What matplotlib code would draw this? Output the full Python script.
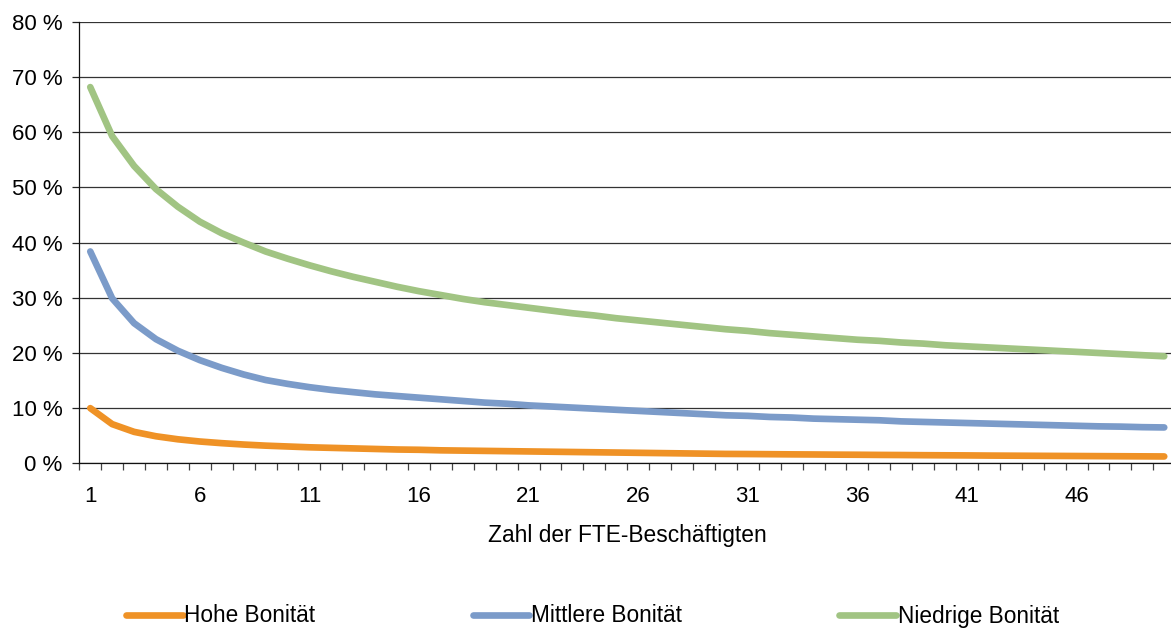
import numpy as np
import matplotlib
matplotlib.use("Agg")
import matplotlib.pyplot as plt

plt.rcParams['font.family'] = ['Liberation Sans', 'DejaVu Sans']

# Number of FTE employees (categories 1..50)
employees = list(range(1, 51))

hohe = [10.0, 7.1, 5.7, 4.9, 4.35, 3.95, 3.65, 3.4, 3.2, 3.05,
        2.9, 2.8, 2.7, 2.6, 2.5, 2.45, 2.35, 2.3, 2.25, 2.2,
        2.15, 2.1, 2.05, 2.0, 1.95, 1.9, 1.85, 1.8, 1.75, 1.7,
        1.68, 1.65, 1.62, 1.6, 1.57, 1.55, 1.52, 1.5, 1.47, 1.45,
        1.43, 1.4, 1.38, 1.36, 1.34, 1.32, 1.3, 1.28, 1.26, 1.24]

mittlere = [38.4, 29.9, 25.4, 22.5, 20.4, 18.7, 17.3, 16.1, 15.1, 14.4,
            13.8, 13.3, 12.9, 12.5, 12.2, 11.9, 11.6, 11.3, 11.0, 10.8,
            10.5, 10.3, 10.1, 9.9, 9.7, 9.5, 9.3, 9.1, 8.9, 8.7,
            8.6, 8.4, 8.3, 8.1, 8.0, 7.9, 7.8, 7.6, 7.5, 7.4,
            7.3, 7.2, 7.1, 7.0, 6.9, 6.8, 6.7, 6.65, 6.55, 6.5]

niedrige = [68.2, 59.3, 53.9, 49.7, 46.5, 43.8, 41.7, 40.0, 38.4, 37.1,
            35.9, 34.8, 33.8, 32.9, 32.0, 31.2, 30.5, 29.8, 29.2, 28.7,
            28.2, 27.7, 27.2, 26.8, 26.3, 25.9, 25.5, 25.1, 24.7, 24.3,
            24.0, 23.6, 23.3, 23.0, 22.7, 22.4, 22.2, 21.9, 21.7, 21.4,
            21.2, 21.0, 20.8, 20.6, 20.4, 20.2, 20.0, 19.8, 19.6, 19.4]

series_labels = ["Hohe Bonität", "Mittlere Bonität", "Niedrige Bonität"]
series_colors = ["#EF9226", "#7B9BC9", "#A1C483"]
y_ticks = [0, 10, 20, 30, 40, 50, 60, 70, 80]
x_label_every = 5

W, H = 1171, 628
fig = plt.figure(figsize=(W / 100, H / 100), dpi=100)
ax = fig.add_axes([79.3 / W, 164.7 / H, (1175.2 - 79.3) / W, (606.0 - 164.7) / H])

lines = []
for vals, lab, col in zip([hohe, mittlere, niedrige], series_labels, series_colors):
    ln, = ax.plot(employees, vals, color=col, lw=4.8, solid_capstyle='round',
                  solid_joinstyle='round', label=lab, zorder=3)
    lines.append(ln)

ax.set_xlim(0.5, len(employees) + 0.5)
ax.set_ylim(0, 80)

# horizontal grid
ax.set_yticks(y_ticks)
ax.set_yticklabels([f"{v} %" for v in y_ticks])
ax.yaxis.grid(True, color='#333333', lw=0.9)
ax.set_axisbelow(True)

# category boundary ticks (unlabelled) and centred labels
ax.set_xticks(np.arange(0.5, len(employees), 1.0))
ax.set_xticklabels([])
ax.set_xticks(employees[::x_label_every], minor=True)
ax.set_xticklabels([str(e) for e in employees[::x_label_every]], minor=True)
ax.tick_params(axis='x', which='major', direction='out', length=5, width=0.9, color='#444444')
ax.tick_params(axis='x', which='minor', length=0, pad=16, labelsize=16)
ax.tick_params(axis='y', direction='out', length=5, width=0.9, pad=7, labelsize=16, color='#222222')

for s in ['top', 'right']:
    ax.spines[s].set_visible(False)
for s in ['left', 'bottom']:
    ax.spines[s].set_color('#111111')
    ax.spines[s].set_linewidth(0.9)

ax.set_xlabel("Zahl der FTE-Beschäftigten", fontsize=16.4, va='center')
ax.xaxis.set_label_coords(0.5, -0.1625)

fig.legend(handles=lines, labels=series_labels, loc='center left',
           bbox_to_anchor=(126 / W, 1 - 616 / H), ncol=3, frameon=False,
           fontsize=16.3, handlelength=2.5, handletextpad=0.08,
           columnspacing=6.95, borderpad=0, borderaxespad=0)

fig.savefig("out.png", dpi=100)
